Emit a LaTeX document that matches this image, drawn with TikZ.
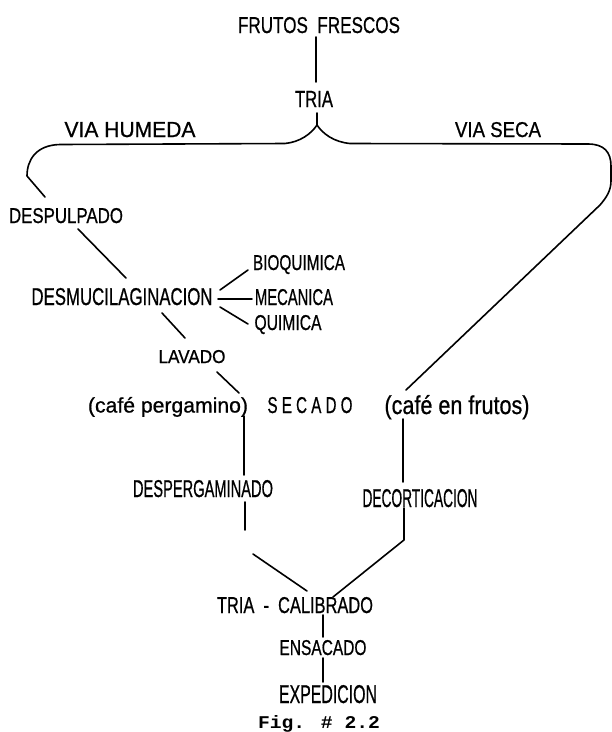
\documentclass[tikz,border=0pt]{standalone}
\usepackage{graphicx}
\usepackage{fontspec}
\setmainfont{Liberation Sans}
\newfontfamily\hwfont{Liberation Sans}[FakeBold=0.8]
\newfontfamily\figfont{Liberation Mono}
\newcommand{\hw}[3]{\resizebox{#1pt}{#2pt}{\hwfont #3}}
\tikzset{
  lbl/.style={anchor=base, inner sep=0pt, outer sep=0pt},
  ln/.style={line width=1.6pt, line cap=round, line join=round, black}
}
\begin{document}
\begin{tikzpicture}[x=1pt,y=-1pt]
\fill[white] (0,0) rectangle (612,732);
\useasboundingbox (0,0) rectangle (612,732);

% ---- labels ----
\node[lbl] (frutos) at (319,33) {\hw{162}{16}{FRUTOS\ \ FRESCOS}};
\node[lbl] (tria) at (314,107) {\hw{38}{16}{TRIA}};
\node[lbl] (humeda) at (130,137) {\hw{131}{15}{VIA HUMEDA}};
\node[lbl] (seca) at (498,137) {\hw{86}{15}{VIA SECA}};
\node[lbl] (despulpado) at (66,223) {\hw{114}{15}{DESPULPADO}};
\node[lbl] (desmuc) at (122,305) {\hw{181}{17}{DESMUCILAGINACION}};
\node[lbl] (bioq) at (299,270) {\hw{92}{15}{BIOQUIMICA}};
\node[lbl] (mec) at (294,305) {\hw{78}{16}{MECANICA}};
\node[lbl] (quim) at (288,330) {\hw{67}{15}{QUIMICA}};
\node[lbl] (lavado) at (192,363) {\hw{67}{13}{LAVADO}};
\node[lbl] (pergamino) at (168,412.5) {\hw{160}{15.5}{(café pergamino)}};
\node[lbl] (secado) at (310,413) {\hw{85}{16}{S E C A D O}};
\node[lbl] (enfrutos) at (457,414) {\hw{145}{19}{(café en frutos)}};
\node[lbl] (desperg) at (203,497) {\hw{140}{17}{DESPERGAMINADO}};
\node[lbl] (decort) at (420,507) {\hw{115}{18}{DECORTICACION}};
\node[lbl] (triacal) at (295,613) {\hw{156}{16}{TRIA\ \ -\ \ CALIBRADO}};
\node[lbl] (ensacado) at (323,655) {\hw{87}{15}{ENSACADO}};
\node[lbl] (expedicion) at (328,703) {\hw{98}{18}{EXPEDICION}};
\node[lbl] (fig) at (319,728) {\resizebox{122pt}{13pt}{\figfont\bfseries Fig. \# 2.2}};

% ---- connector end points ----
\coordinate (c1a) at (316,37);  \coordinate (c1b) at (316,82);
\coordinate (bpk) at (317,113); \coordinate (bmid) at (317,125);
\coordinate (bl) at (45,197);   \coordinate (br) at (406,390);
\coordinate (d1a) at (78,229);  \coordinate (d1b) at (126,278);
\coordinate (m1a) at (220,290); \coordinate (m1b) at (248,270);
\coordinate (m2a) at (218,299); \coordinate (m2b) at (252,299);
\coordinate (m3a) at (220,307); \coordinate (m3b) at (248,324);
\coordinate (l1a) at (162,313); \coordinate (l1b) at (185,338);
\coordinate (l2a) at (217,372); \coordinate (l2b) at (239,393);
\coordinate (p1a) at (244,416); \coordinate (p1b) at (244,475);
\coordinate (p2a) at (245,502); \coordinate (p2b) at (245,530);
\coordinate (p3a) at (253,554); \coordinate (p3b) at (307,591);
\coordinate (f1a) at (403,419); \coordinate (f1b) at (403,482);
\coordinate (f2a) at (404,508); \coordinate (f2m) at (404,540); \coordinate (f2b) at (333,597);
\coordinate (e1a) at (323,615); \coordinate (e1b) at (323,637);
\coordinate (e2a) at (323,658); \coordinate (e2b) at (323,682);

% ---- connectors ----
\draw[ln] (c1a) -- (c1b);
% brace
\draw[ln] (bpk) -- (bmid)
  .. controls (311,134) and (300,142) .. (285,143.5) -- (60,144.5)
  .. controls (36,145) and (27,160) .. (27,176) -- (bl);
\draw[ln] (bmid)
  .. controls (323,134) and (334,142) .. (350,143.5) -- (588,144)
  .. controls (604,144) and (611,152) .. (611,166) -- (611,181)
  .. controls (611,191) and (606,198) .. (600,205) -- (br);
\draw[ln] (d1a) -- (d1b);
\draw[ln] (m1a) -- (m1b);
\draw[ln] (m2a) -- (m2b);
\draw[ln] (m3a) -- (m3b);
\draw[ln] (l1a) -- (l1b);
\draw[ln] (l2a) -- (l2b);
\draw[ln] (p1a) -- (p1b);
\draw[ln] (p2a) -- (p2b);
\draw[ln] (p3a) -- (p3b);
\draw[ln] (f1a) -- (f1b);
\draw[ln] (f2a) -- (f2m) -- (f2b);
\draw[ln] (e1a) -- (e1b);
\draw[ln] (e2a) -- (e2b);
\end{tikzpicture}
\end{document}
